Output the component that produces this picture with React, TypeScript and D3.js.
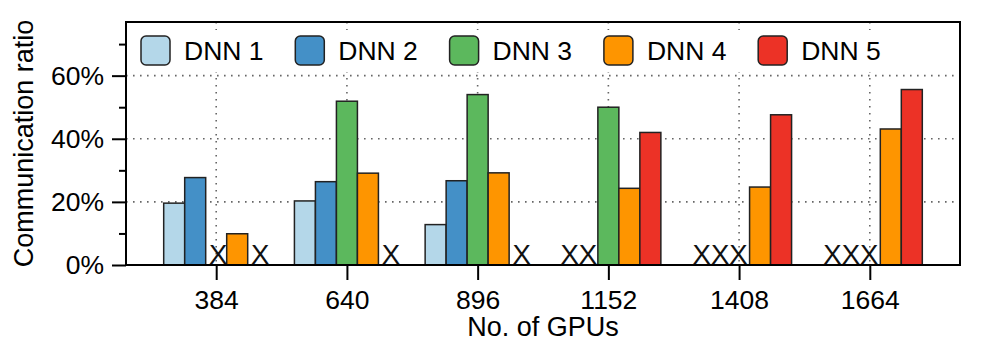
import { useRef, useEffect } from 'react'
import * as d3 from 'd3'

// GPU counts on the x axis
const gpuCounts = ['384', '640', '896', '1152', '1408', '1664']
const seriesNames = ['DNN 1', 'DNN 2', 'DNN 3', 'DNN 4', 'DNN 5']
// communication ratio in %, null = not run (drawn as an X)
const dnn1 = [19.6, 20.3, 12.8, null, null, null]
const dnn2 = [27.7, 26.4, 26.7, null, null, null]
const dnn3 = [null, 51.9, 54.0, 50.0, null, null]
const dnn4 = [9.9, 29.1, 29.2, 24.3, 24.7, 43.1]
const dnn5 = [null, null, null, 42.0, 47.6, 55.6]
const majorTicks = [0, 20, 40, 60]
const minorTicks = [10, 30, 50, 70]
const colors = ['#b4d7e9', '#4490c7', '#5cb85d', '#fe9500', '#ec3226']

const FONT = '"Liberation Sans", Arial, Helvetica, sans-serif'

export default function App() {
    const svgRef = useRef<SVGSVGElement>(null)

    useEffect(() => {
        if (!svgRef.current) return
        const svg = d3.select(svgRef.current)
        svg.selectAll('*').remove()

        const width = 996
        const height = 356
        const margin = { top: 22, right: 36, bottom: 91, left: 126 }
        const innerW = width - margin.left - margin.right
        const innerH = height - margin.top - margin.bottom

        const allSeries = [dnn1, dnn2, dnn3, dnn4, dnn5]
        const rows = gpuCounts.map((g, i) => ({
            gpu: g,
            values: seriesNames.map((s, j) => ({ key: s, idx: j, value: allSeries[j][i] }))
        }))

        const g = svg.append('g').attr('transform', `translate(${margin.left},${margin.top})`)

        const x0 = d3.scalePoint<string>().domain(gpuCounts).range([0, innerW]).padding(0.69)
        const x1 = d3.scaleBand<string>().domain(seriesNames).range([-52.5, 52.5]).padding(0)
        const y = d3.scaleLinear().domain([0, 77]).range([innerH, 0])

        // Grid (dotted)
        const gridStyle = (sel: any) => sel
            .style('stroke', '#666')
            .style('stroke-width', 1.6)
            .style('stroke-dasharray', '1.6,5.4')
        g.selectAll('.hgrid')
            .data(majorTicks.filter(d => d > 0))
            .enter()
            .append('line')
            .attr('x1', 0).attr('x2', innerW)
            .attr('y1', d => y(d)).attr('y2', d => y(d))
            .call(gridStyle)
        g.selectAll('.vgrid')
            .data(gpuCounts)
            .enter()
            .append('line')
            .attr('x1', d => x0(d)!).attr('x2', d => x0(d)!)
            .attr('y1', 0).attr('y2', innerH)
            .call(gridStyle)

        // Legend background hides the grid behind it
        g.append('rect')
            .attr('x', 5).attr('y', 8)
            .attr('width', 774).attr('height', 42)
            .style('fill', '#fff')

        // Bars
        const groups = g.selectAll('.group')
            .data(rows)
            .enter()
            .append('g')
            .attr('transform', d => `translate(${x0(d.gpu)},0)`)

        groups.selectAll('rect')
            .data(d => d.values.filter(v => v.value != null))
            .enter()
            .append('rect')
            .attr('x', d => x1(d.key)!)
            .attr('y', d => y(d.value as number))
            .attr('width', x1.bandwidth())
            .attr('height', d => innerH - y(d.value as number))
            .style('fill', d => colors[d.idx])
            .style('stroke', '#222')
            .style('stroke-width', 1.5)

        // X for missing runs: consecutive missing series share one "XX.." label
        const missingRuns = (vals: { key: string, value: number | null }[]) => {
            const runs: string[][] = []
            let cur: string[] = []
            vals.forEach(v => {
                if (v.value == null) cur.push(v.key)
                else if (cur.length) { runs.push(cur); cur = [] }
            })
            if (cur.length) runs.push(cur)
            return runs
        }
        groups.selectAll('.miss')
            .data(d => missingRuns(d.values))
            .enter()
            .append('text')
            .attr('x', d => d3.mean(d, k => x1(k)! + x1.bandwidth() / 2)! + 2)
            .attr('y', innerH - 1)
            .attr('text-anchor', 'middle')
            .style('font-family', FONT)
            .style('font-size', '27.5px')
            .style('fill', '#111')
            .text(d => 'X'.repeat(d.length))

        // Frame
        g.append('rect')
            .attr('width', innerW).attr('height', innerH)
            .style('fill', 'none')
            .style('stroke', '#000')
            .style('stroke-width', 2)

        // Y axis
        const yAxis = g.append('g')
            .call(d3.axisLeft(y).tickValues(majorTicks).tickSize(14).tickPadding(8).tickFormat(d => `${d}%`))
        yAxis.select('.domain').remove()
        yAxis.selectAll('line').style('stroke', '#000').style('stroke-width', 2)
        yAxis.selectAll('text')
            .style('font-family', FONT)
            .style('font-size', '26.5px')
            .style('fill', '#000')
        g.append('g')
            .call(d3.axisLeft(y).tickValues(minorTicks).tickSize(7).tickFormat(() => ''))
            .call(s => s.select('.domain').remove())
            .selectAll('line').style('stroke', '#000').style('stroke-width', 2)

        // X axis
        const xAxis = g.append('g')
            .attr('transform', `translate(0,${innerH})`)
            .call(d3.axisBottom(x0).tickSize(15).tickPadding(10))
        xAxis.select('.domain').remove()
        xAxis.selectAll('line').style('stroke', '#000').style('stroke-width', 2)
        xAxis.selectAll('text')
            .style('font-family', FONT)
            .style('font-size', '26.5px')
            .style('fill', '#000')

        // Axis titles
        g.append('text')
            .attr('x', innerW / 2)
            .attr('y', 314)
            .attr('text-anchor', 'middle')
            .style('font-family', FONT)
            .style('font-size', '27px')
            .text('No. of GPUs')
        g.append('text')
            .attr('transform', `translate(${33 - margin.left},${innerH / 2}) rotate(-90)`)
            .attr('text-anchor', 'middle')
            .style('font-family', FONT)
            .style('font-size', '27px')
            .text('Communication ratio')

        // Legend
        const legend = g.selectAll('.legend')
            .data(seriesNames)
            .enter()
            .append('g')
            .attr('transform', (d, i) => `translate(${15 + i * 154.3},14)`)
        legend.append('rect')
            .attr('width', 29).attr('height', 29)
            .attr('rx', 5)
            .style('fill', (d, i) => colors[i])
            .style('stroke', '#222')
            .style('stroke-width', 1.5)
        legend.append('text')
            .attr('x', 43)
            .attr('y', 24)
            .style('font-family', FONT)
            .style('font-size', '26.5px')
            .style('fill', '#000')
            .text(d => d)
    }, [])

    return (
        <svg
            ref={svgRef}
            width={996}
            height={356}
            style={{ position: 'absolute', left: 0, top: 0, background: '#fff' }}
        />
    )
}
